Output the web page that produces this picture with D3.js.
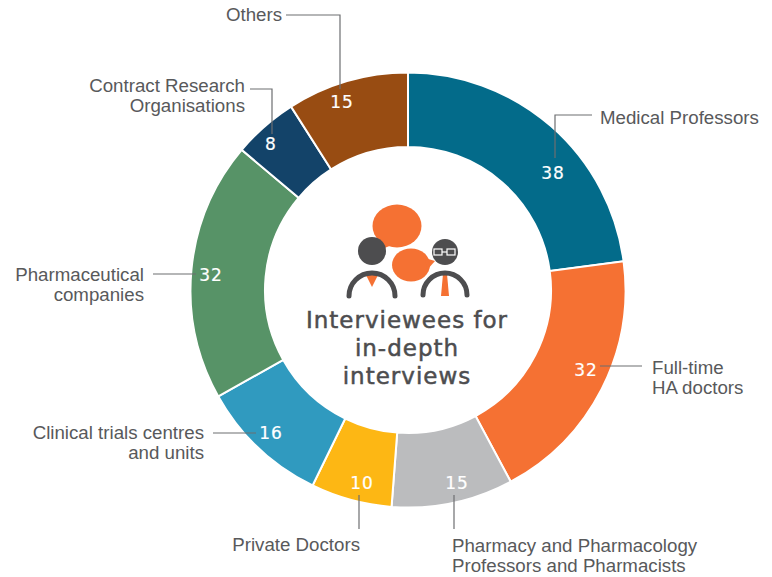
<!DOCTYPE html>
<html>
<head>
<meta charset="utf-8">
<script src="https://cdn.jsdelivr.net/npm/d3@7"></script>
<style>
    html, body { margin: 0; padding: 0; background: #fff; }
    svg { display: block; }
    .label { font-family: "Liberation Sans", sans-serif; font-size: 18.7px; fill: #58595b; }
    .value { font-family: "DejaVu Sans", sans-serif; font-size: 17px; letter-spacing: 1px; fill: #fff; text-anchor: middle; stroke: #fff; stroke-width: 0.2px; }
    .title { font-family: "DejaVu Sans", sans-serif; font-size: 23px; letter-spacing: 1px; fill: #4d4d4f; text-anchor: middle; stroke: #4d4d4f; stroke-width: 0.5px; }
    .leader { fill: none; stroke: #6d6e71; stroke-width: 1.2px; }
</style>
</head>
<body>
<svg id="chart" width="772" height="577"></svg>
<script>
const categories = ["Medical Professors", "Full-time HA doctors", "Pharmacy and Pharmacology Professors and Pharmacists",
    "Private Doctors", "Clinical trials centres and units", "Pharmaceutical companies",
    "Contract Research Organisations", "Others"];
const counts = [38, 32, 15, 10, 16, 32, 8, 15];
const colors = ["#036b8a", "#f57133", "#bbbcbe", "#fdb714", "#309abf", "#579367", "#134369", "#984c12"];
const titleLines = ["Interviewees for", "in-depth", "interviews"];

let svg = d3.select("#chart");
let cx = 408, cy = 290;

let pie = d3.pie().sort(null).value(d => d);
let arc = d3.arc().innerRadius(143).outerRadius(217.5);
let ring = svg.append("g").attr("transform", "translate(" + cx + "," + cy + ")");

let arcs = pie(counts);

ring.selectAll("path")
    .data(arcs)
    .enter()
    .append("path")
    .attr("d", arc)
    .attr("fill", (d, i) => colors[i])
    .attr("stroke", "#fff")
    .attr("stroke-width", 2);

// Value positions sit at different spots in each slice, so they are placed by hand
const valuePos = [[553, 173], [586, 370], [457, 483], [362, 483], [271, 433], [211, 275], [271, 144], [342, 102]];
svg.selectAll(".value")
    .data(counts)
    .enter()
    .append("text")
    .attr("class", "value")
    .attr("x", (d, i) => valuePos[i][0])
    .attr("y", (d, i) => valuePos[i][1] + 6)
    .text(d => d);

// Leader lines
const leaders = [
    [[592, 115], [555, 115], [555, 158]],
    [[642, 366], [600, 366]],
    [[454, 529], [454, 495]],
    [[359, 529], [359, 495]],
    [[213, 433], [256, 433]],
    [[153, 274], [196, 274]],
    [[250, 89], [272, 89], [272, 134]],
    [[286, 15], [340, 15], [340, 89]]
];
svg.selectAll(".leader")
    .data(leaders)
    .enter()
    .append("path")
    .attr("class", "leader")
    .attr("d", d3.line());

// Slice labels
const labelRows = [
    {x: 600, y: 124, anchor: "start", lines: ["Medical Professors"]},
    {x: 652, y: 374, anchor: "start", lines: ["Full-time", "HA doctors"]},
    {x: 452, y: 552, anchor: "start", lines: ["Pharmacy and Pharmacology", "Professors and Pharmacists"]},
    {x: 360, y: 551, anchor: "end", lines: ["Private Doctors"]},
    {x: 204, y: 439, anchor: "end", lines: ["Clinical trials centres", "and units"]},
    {x: 144, y: 281, anchor: "end", lines: ["Pharmaceutical", "companies"]},
    {x: 245, y: 92, anchor: "end", lines: ["Contract Research", "Organisations"]},
    {x: 282, y: 21, anchor: "end", lines: ["Others"]}
];
labelRows.forEach(row => {
    let t = svg.append("text")
        .attr("class", "label")
        .attr("text-anchor", row.anchor);
    row.lines.forEach((line, i) => {
        t.append("tspan")
            .attr("x", row.x)
            .attr("y", row.y + i * 20)
            .text(line);
    });
});

// Centre title
svg.selectAll(".title")
    .data(titleLines)
    .enter()
    .append("text")
    .attr("class", "title")
    .attr("x", 407)
    .attr("y", (d, i) => 328 + i * 28)
    .text(d => d);

// Icon of the two people talking
const dark = "#4d4d4f", orange = "#f57133";
let icon = svg.append("g");

// speech bubbles
icon.append("ellipse").attr("cx", 397).attr("cy", 226).attr("rx", 24.5).attr("ry", 21.5).attr("fill", orange);
icon.append("path").attr("d", "M382,241L382,249L392,245Z").attr("fill", orange);
icon.append("ellipse").attr("cx", 411).attr("cy", 265).attr("rx", 19).attr("ry", 16.5).attr("fill", orange);
icon.append("path").attr("d", "M425,258L435,261L427,270Z").attr("fill", orange);

// left person
icon.append("circle").attr("cx", 372).attr("cy", 251).attr("r", 14).attr("fill", dark);
icon.append("path").attr("d", "M366,275L378,275L372,287Z").attr("fill", orange);
icon.append("path").attr("d", "M349,296A23,23 0 0 1 395,296")
    .attr("fill", "none").attr("stroke", dark).attr("stroke-width", 5).attr("stroke-linecap", "round");

// right person
icon.append("circle").attr("cx", 445).attr("cy", 252).attr("r", 13).attr("fill", dark);
icon.append("rect").attr("x", 434).attr("y", 249).attr("width", 8).attr("height", 6).attr("fill", "none").attr("stroke", "#fff").attr("stroke-width", 1.2);
icon.append("rect").attr("x", 447).attr("y", 249).attr("width", 8).attr("height", 6).attr("fill", "none").attr("stroke", "#fff").attr("stroke-width", 1.2);
icon.append("path").attr("d", "M442,252L447,252").attr("stroke", "#fff").attr("stroke-width", 1.2);
icon.append("path").attr("d", "M443,274L447,274L449,296L441,296Z").attr("fill", orange);
icon.append("path").attr("d", "M423,295A22,22 0 0 1 467,295")
    .attr("fill", "none").attr("stroke", dark).attr("stroke-width", 5).attr("stroke-linecap", "round");
</script>
</body>
</html>
